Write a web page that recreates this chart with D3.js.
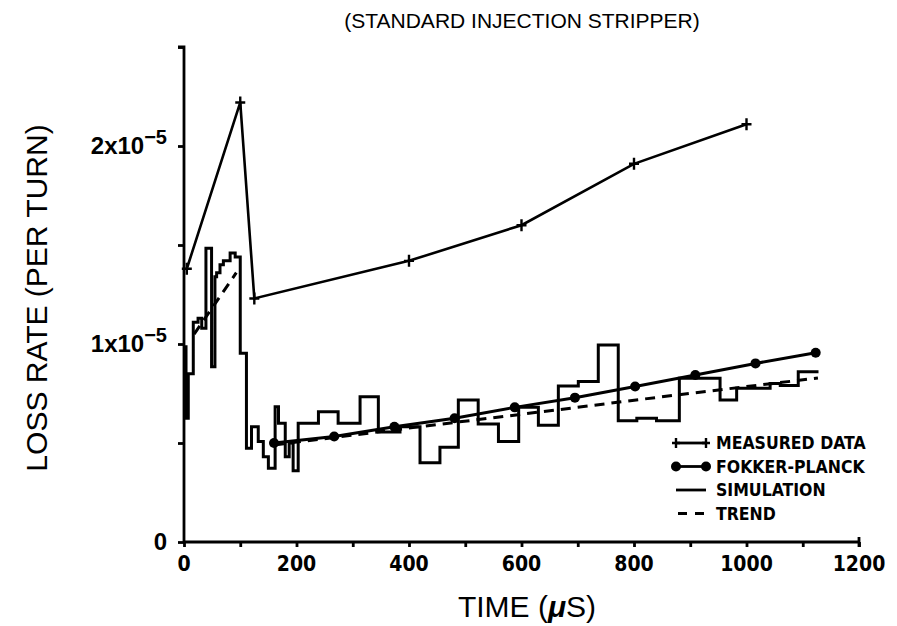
<!DOCTYPE html>
<html>
<head>
<meta charset="utf-8">
<script src="https://cdn.jsdelivr.net/npm/d3@7"></script>
<style>
  html, body { margin: 0; padding: 0; background: #fff; }
  svg { display: block; }
  text { fill: #000; }
</style>
</head>
<body>
<svg id="chart" width="897" height="626"></svg>
<script>
// Loss rate values are in units of 1e-6 per turn, times in microseconds.
const timeTicks = [0, 200, 400, 600, 800, 1000, 1200];
const rateTicks = [0, 10, 20];

// Measured data
const measuredTime = [5, 100, 125, 400, 600, 800, 1000];
const measuredRate = [13.8, 22.2, 12.3, 14.2, 16.0, 19.1, 21.1];

// Fokker-Planck calculation
const fpTime = [160, 267, 374, 481, 588, 695, 802, 909, 1016, 1123];
const fpRate = [5.0, 5.33, 5.82, 6.25, 6.8, 7.29, 7.85, 8.43, 9.02, 9.56];

// Simulation histogram: bin start times and rates
const simStart = [0, 3.6, 7.6, 16.5, 25, 31.5, 39, 49, 55, 58, 64, 70, 82, 91, 100, 111, 120, 132, 141, 150, 162, 168, 180, 187, 194, 203, 239, 274, 313, 345.5, 384, 419.6, 455, 487.7, 523, 559, 595, 630, 665.5, 701, 736.5, 772, 805, 840, 880.6, 953, 982.5, 1042, 1060, 1092];
const simRate = [9.86, 6.25, 8.5, 11.1, 11.3, 10.8, 14.83, 8.85, 13.4, 13.6, 14.0, 14.2, 14.6, 14.4, 9.53, 4.73, 5.82, 5.07, 4.31, 3.72, 6.83, 6.0, 4.31, 5.0, 3.6, 6.0, 6.58, 6.0, 7.34, 5.55, 5.82, 4.0, 4.78, 7.17, 5.96, 5.07, 6.8, 5.9, 7.88, 8.1, 9.95, 6.13, 6.25, 6.13, 8.27, 7.17, 7.76, 8.0, 7.9, 8.6];
const simEnd = 1128;

// Trend lines (early rise and long-term trend)
const trendEarlyTime = [18, 93];
const trendEarlyRate = [10.5, 13.6];
const trendLateTime = [160, 450, 600, 840, 1000, 1127];
const trendLateRate = [4.9, 5.93, 6.45, 7.3, 7.85, 8.28];

const legendLabels = ["MEASURED DATA", "FOKKER-PLANCK", "SIMULATION", "TREND"];

const svg = d3.select("#chart");
const x = d3.scaleLinear().domain([0, 1200]).range([184, 859]);
const y = d3.scaleLinear().domain([0, 25]).range([542, 47]);

const ink = "#000";
const condensed = "'DejaVu Sans Condensed', 'Liberation Sans Narrow', sans-serif";
const sans = "'Liberation Sans', Arial, sans-serif";

// Axes
const xAxis = svg.append("g").attr("transform", `translate(0,${y(0)})`)
  .call(d3.axisBottom(x).tickValues(d3.range(0, 1201, 100)).tickSize(5).tickFormat(""));
xAxis.select(".domain").attr("d", `M${x(0)},0H${x(1200)}V-5M${x(1200)},0V5`);
const yAxis = svg.append("g").attr("transform", `translate(${x(0)},0)`)
  .call(d3.axisLeft(y).tickValues(d3.range(0, 25.1, 5)).tickSize(6).tickFormat(""));
yAxis.select(".domain").attr("d", `M0,${y(0)}V${y(25)}H-6`);
svg.selectAll(".domain, .tick line").attr("stroke", ink).attr("stroke-width", 2.8);

// X tick labels
svg.append("g").selectAll("text").data(timeTicks).join("text")
  .attr("x", d => x(d)).attr("y", y(0) + 29)
  .attr("text-anchor", "middle")
  .style("font-family", condensed).style("font-weight", "bold").style("font-size", "21px")
  .text(d => d);

// Y tick labels
const yLab = svg.append("g").selectAll("text").data(rateTicks).join("text")
  .attr("x", x(0) - 17).attr("y", d => y(d) + 8)
  .attr("text-anchor", "end")
  .style("font-family", sans).style("font-weight", "bold").style("font-size", "24px");
yLab.each(function(d) {
  const t = d3.select(this);
  if (d === 0) { t.text("0"); return; }
  t.append("tspan").text(`${d / 10}x10`);
  t.append("tspan").attr("dy", -10).style("font-size", "20px").text("\u22125");
});

// Titles
svg.append("text").attr("x", 522).attr("y", 28).attr("text-anchor", "middle")
  .style("font-family", sans).style("font-size", "21px").text("(STANDARD INJECTION STRIPPER)");
svg.append("text").attr("transform", "translate(47,298) rotate(-90)").attr("text-anchor", "middle")
  .style("font-family", sans).style("font-size", "30px").text("LOSS RATE (PER TURN)");
const xt = svg.append("text").attr("x", 527).attr("y", 617).attr("text-anchor", "middle")
  .style("font-family", sans).style("font-size", "30px");
xt.append("tspan").text("TIME (");
xt.append("tspan").style("font-style", "italic").style("font-weight", "bold").text("\u03bc");
xt.append("tspan").text("S)");

// Simulation histogram
const simPts = simStart.map((t, i) => [t, simRate[i]]).concat([[simEnd, simRate[simRate.length - 1]]]);
svg.append("path").datum(simPts)
  .attr("d", d3.line().x(d => x(d[0])).y(d => y(d[1])).curve(d3.curveStepAfter))
  .attr("fill", "none").attr("stroke", ink).attr("stroke-width", 3).attr("stroke-linejoin", "miter");

// Trend
const lineGen = d3.line().x(d => x(d[0])).y(d => y(d[1]));
[[trendEarlyTime, trendEarlyRate], [trendLateTime, trendLateRate]].forEach(([ts, vs]) => {
  svg.append("path").datum(ts.map((t, i) => [t, vs[i]]))
    .attr("d", lineGen).attr("fill", "none").attr("stroke", ink)
    .attr("stroke-width", 3).attr("stroke-dasharray", "10,7");
});

// Fokker-Planck
const fpPts = fpTime.map((t, i) => [t, fpRate[i]]);
svg.append("path").datum(fpPts).attr("d", lineGen)
  .attr("fill", "none").attr("stroke", ink).attr("stroke-width", 3);
svg.append("g").selectAll("circle").data(fpPts).join("circle")
  .attr("cx", d => x(d[0])).attr("cy", d => y(d[1])).attr("r", 5).attr("fill", ink);

// Measured data
const mPts = measuredTime.map((t, i) => [t, measuredRate[i]]);
svg.append("path").datum(mPts).attr("d", lineGen)
  .attr("fill", "none").attr("stroke", ink).attr("stroke-width", 2.6);
svg.append("g").selectAll("path").data(mPts).join("path")
  .attr("transform", d => `translate(${x(d[0])},${y(d[1])})`)
  .attr("d", "M-5,0H5M0,-6V6")
  .attr("stroke", ink).attr("stroke-width", 2.4);

// Legend
const lg = svg.append("g").attr("transform", "translate(676,443)");
const rowH = 23.5;
legendLabels.forEach((lab, i) => {
  const g = lg.append("g").attr("transform", `translate(0,${i * rowH})`);
  if (i === 3) {
    g.append("line").attr("x1", 2).attr("x2", 30).attr("stroke", ink)
      .attr("stroke-width", 3.2).attr("stroke-dasharray", "9,8");
  } else {
    g.append("line").attr("x1", 0).attr("x2", 30).attr("stroke", ink).attr("stroke-width", 2.8);
  }
  if (i === 0) {
    [0, 30].forEach(px => g.append("path")
      .attr("d", `M${px - 4},0H${px + 4}M${px},-5V5`).attr("stroke", ink).attr("stroke-width", 2.4));
  }
  if (i === 1) {
    [0, 30].forEach(px => g.append("circle").attr("cx", px).attr("r", 5).attr("fill", ink));
  }
  g.append("text").attr("x", 40).attr("y", 6)
    .style("font-family", condensed).style("font-weight", "bold").style("font-size", "17.5px")
    .text(lab);
});
</script>
</body>
</html>
